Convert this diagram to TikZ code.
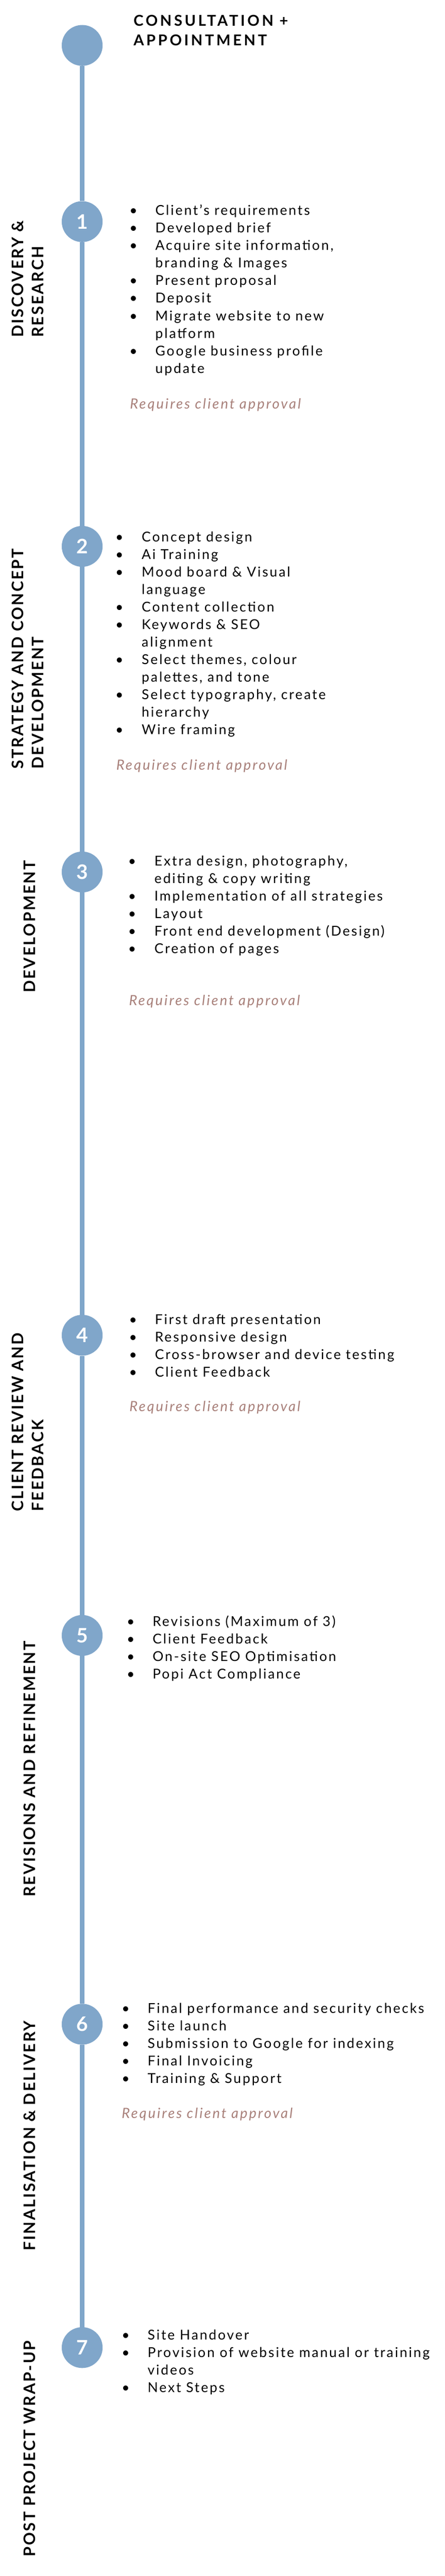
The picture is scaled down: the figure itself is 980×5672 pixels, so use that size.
\documentclass[tikz,border=0pt]{standalone}
\usepackage{fontspec}
\setmainfont{Lato}
\newfontfamily\bodyfont[LetterSpace=11]{Lato}
\newfontfamily\headfont[LetterSpace=9]{Lato Bold}
\newfontfamily\titlefont[LetterSpace=16]{Lato Bold}
\usetikzlibrary{positioning}
\definecolor{lineblue}{RGB}{128,166,202}
\definecolor{noteclr}{RGB}{168,128,122}
\tikzset{
  stepdot/.style={circle,fill=lineblue,minimum size=90pt,inner sep=0pt,
    text=white,font=\fontsize{44}{44}\selectfont\bfseries},
  sidelabel/.style={rotate=90,anchor=north west,inner sep=0pt,align=left,
    font=\fontsize{35}{44}\headfont},
  itemlist/.style={anchor=base west,inner sep=0pt,
    font=\fontsize{30}{38.6}\bodyfont},
  approval/.style={anchor=base west,inner sep=0pt,text=noteclr,
    font=\fontsize{31}{38.6}\bodyfont\itshape},
}
\newcommand{\itemsat}[2]{\begin{tabular}[t]{@{}p{#1}@{}l@{}}#2\end{tabular}}
\begin{document}
\begin{tikzpicture}[x=1pt,y=-1pt]
\useasboundingbox (0,0) rectangle (980,5672);
% timeline
\node[stepdot] (s0) at (181,100) {};
\node[stepdot] (s1) at (181,488) {1};
\node[stepdot] (s2) at (181,1203) {2};
\node[stepdot] (s3) at (181,1920) {3};
\node[stepdot] (s4) at (181,2940) {4};
\node[stepdot] (s5) at (181,3601) {5};
\node[stepdot] (s6) at (181,4457) {6};
\node[stepdot] (s7) at (181,5169) {7};
\draw[lineblue,line width=10pt] (s0.south) -- (s1.north) (s1.south) -- (s2.north)
  (s2.south) -- (s3.north) (s3.south) -- (s4.north) (s4.south) -- (s5.north)
  (s5.south) -- (s6.north) (s6.south) -- (s7.north);
% heading
\node[anchor=base west,inner sep=0pt,align=left,
  font=\fontsize{33}{43}\titlefont] (head) at (294,100) {CONSULTATION +\\APPOINTMENT};
% side labels
\node[sidelabel] (lab1) at (26,743) {DISCOVERY \&\\RESEARCH};
\node[sidelabel] (lab2) at (26,1693) {STRATEGY AND CONCEPT\\DEVELOPMENT};
\node[sidelabel] (lab3) at (52,2186) {DEVELOPMENT};
\node[sidelabel] (lab4) at (26,3328) {CLIENT REVIEW AND\\FEEDBACK};
\node[sidelabel] (lab5) at (52,4177) {REVISIONS AND REFINEMENT};
\node[sidelabel] (lab6) at (52,4956) {FINALISATION \& DELIVERY};
\node[sidelabel] (lab7) at (52,5630) {POST PROJECT WRAP-UP};
% items
\node[itemlist] (list1) at (285,474) {\itemsat{57pt}{%
  \textbullet & Client’s requirements\\
  \textbullet & Developed brief\\
  \textbullet & Acquire site information,\\
  & branding \& Images\\
  \textbullet & Present proposal\\
  \textbullet & Deposit\\
  \textbullet & Migrate website to new\\
  & platform\\
  \textbullet & Google business profile\\
  & update}};
\node[approval] (ok1) at (286,900) {Requires client approval};
\node[itemlist] (list2) at (254,1193) {\itemsat{58pt}{%
  \textbullet & Concept design\\
  \textbullet & Ai Training\\
  \textbullet & Mood board \& Visual\\
  & language\\
  \textbullet & Content collection\\
  \textbullet & Keywords \& SEO\\
  & alignment\\
  \textbullet & Select themes, colour\\
  & palettes, and tone\\
  \textbullet & Select typography, create\\
  & hierarchy\\
  \textbullet & Wire framing}};
\node[approval] (ok2) at (256,1695) {Requires client approval};
\node[itemlist] (list3) at (282,1906) {\itemsat{58pt}{%
  \textbullet & Extra design, photography,\\
  & editing \& copy writing\\
  \textbullet & Implementation of all strategies\\
  \textbullet & Layout\\
  \textbullet & Front end development (Design)\\
  \textbullet & Creation of pages}};
\node[approval] (ok3) at (284,2214) {Requires client approval};
\node[itemlist] (list4) at (284,2916) {\itemsat{57pt}{%
  \textbullet & First draft presentation\\
  \textbullet & Responsive design\\
  \textbullet & Cross-browser and device testing\\
  \textbullet & Client Feedback}};
\node[approval] (ok4) at (285,3108) {Requires client approval};
\node[itemlist] (list5) at (279,3581) {\itemsat{57pt}{%
  \textbullet & Revisions (Maximum of 3)\\
  \textbullet & Client Feedback\\
  \textbullet & On-site SEO Optimisation\\
  \textbullet & Popi Act Compliance}};
\node[itemlist] (list6) at (268,4433) {\itemsat{57pt}{%
  \textbullet & Final performance and security checks\\
  \textbullet & Site launch\\
  \textbullet & Submission to Google for indexing\\
  \textbullet & Final Invoicing\\
  \textbullet & Training \& Support}};
\node[approval] (ok6) at (268,4664) {Requires client approval};
\node[itemlist] (list7) at (268,5152) {\itemsat{57pt}{%
  \textbullet & Site Handover\\
  \textbullet & Provision of website manual or training\\
  & videos\\
  \textbullet & Next Steps}};
\end{tikzpicture}
\end{document}
